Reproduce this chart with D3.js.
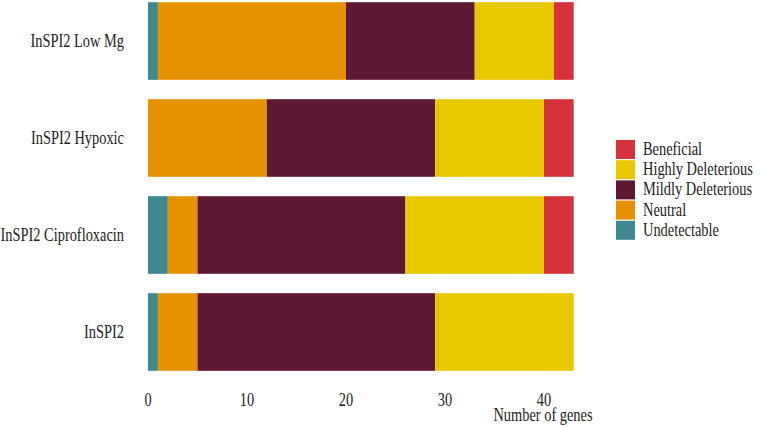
<!DOCTYPE html>
<html><head><meta charset="utf-8">
<script src="https://cdn.jsdelivr.net/npm/d3@7"></script>
<style>body{margin:0;background:#fff}svg{display:block}</style>
</head><body><svg id="c" width="763" height="427"></svg>
<script>
const categories = ["InSPI2 Low Mg","InSPI2 Hypoxic","InSPI2 Ciprofloxacin","InSPI2"];
const seriesNames = ["Undetectable","Neutral","Mildly Deleterious","Highly Deleterious","Beneficial"];
const undetectable = [1,0,2,1];
const neutral = [19,12,3,4];
const mildly = [13,17,21,24];
const highly = [8,11,14,14];
const beneficial = [2,3,3,0];
const xTicks = [0,10,20,30,40];
const colors = ["#3E8891","#E69100","#5D1833","#E8C900","#D6323C"];

const rows = categories.map((c,i)=>({cat:c,"Undetectable":undetectable[i],"Neutral":neutral[i],"Mildly Deleterious":mildly[i],"Highly Deleterious":highly[i],"Beneficial":beneficial[i]}));
const stack = d3.stack().keys(seriesNames)(rows);
const svg = d3.select("#c").attr("font-family","'Liberation Serif','Times New Roman',Times,'DejaVu Serif',serif");
const x = d3.scaleLinear().domain([0,40]).range([148,544]);
const y = d3.scaleBand().domain(categories).range([-7.5,380.5]).paddingInner(0.2).paddingOuter(0.1);
const color = d3.scaleOrdinal().domain(seriesNames).range(colors);

svg.append("g").selectAll("g").data(stack).join("g").attr("fill",d=>color(d.key))
  .selectAll("rect").data(d=>d).join("rect")
  .attr("x",d=>x(d[0])).attr("width",d=>x(d[1])-x(d[0]))
  .attr("y",d=>y(d.data.cat)).attr("height",y.bandwidth());

const sx = 0.8;
svg.append("g").selectAll("text").data(categories).join("text")
  .attr("transform",d=>`translate(124,${y(d)+y.bandwidth()/2+6}) scale(${sx},1)`)
  .attr("text-anchor","end").attr("font-size",18).attr("fill","#222").text(d=>d);
svg.append("g").selectAll("text").data(xTicks).join("text")
  .attr("transform",d=>`translate(${x(d)},406) scale(${sx},1)`)
  .attr("text-anchor","middle").attr("font-size",18).attr("fill","#222").text(d=>d);
svg.append("text").attr("transform",`translate(543,421) scale(${sx},1)`)
  .attr("text-anchor","middle").attr("font-size",18).attr("fill","#222").text("Number of genes");
const legendOrder = ["Beneficial","Highly Deleterious","Mildly Deleterious","Neutral","Undetectable"];
const lg = svg.append("g").selectAll("g").data(legendOrder).join("g")
  .attr("transform",(d,i)=>`translate(616,${140+i*20.2})`);
lg.append("rect").attr("width",19).attr("height",19).attr("fill",d=>color(d));
lg.append("text").attr("transform",`translate(27,15) scale(${sx},1)`).attr("font-size",18).attr("fill","#222").text(d=>d);
</script></body></html>
